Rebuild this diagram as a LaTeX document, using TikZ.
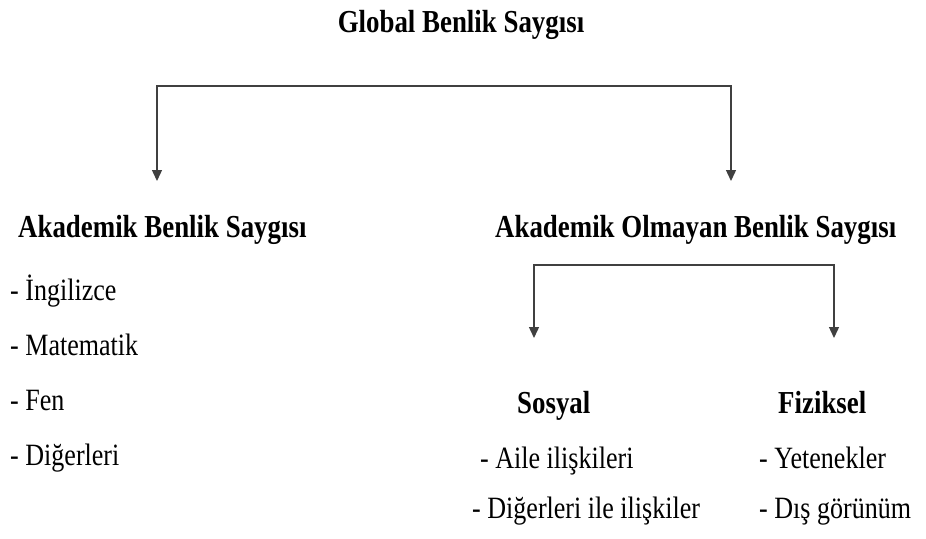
\documentclass[tikz,border=0pt]{standalone}
\usepackage{fontspec}
\setmainfont{Liberation Serif}[FakeStretch=0.84]
\usetikzlibrary{arrows.meta}
\begin{document}
\begin{tikzpicture}[x=1pt,y=-1pt,
  hd/.style={font=\fontsize{32}{36}\selectfont\bfseries, inner sep=0pt, anchor=base west},
  itm/.style={font=\fontsize{31}{36}\selectfont, inner sep=0pt, anchor=base west},
  conn/.style={draw=black!75, line width=1.4pt,
    {Triangle[width=10pt,length=11pt]}-{Triangle[width=10pt,length=11pt]}}]
\useasboundingbox (0,0) rectangle (926,538);
% title
\node[hd, anchor=base] (g) at (461,32) {Global Benlik Saygısı};
\coordinate (gl) at (458,86);
\coordinate (t1) at (157,181);
\coordinate (t2) at (731,181);
\draw[conn] (t1) -- (t1 |- gl) -- (t2 |- gl) -- (t2);
% headings
\node[hd] (ak) at (18,237) {Akademik Benlik Saygısı};
\node[hd] (nak) at (495,237) {Akademik Olmayan Benlik Saygısı};
% academic items
\node[itm] (i1) at (10,300) {- İngilizce};
\node[itm] (i2) at (10,355) {- Matematik};
\node[itm] (i3) at (10,410) {- Fen};
\node[itm] (i4) at (10,465) {- Diğerleri};
% non-academic bracket
\coordinate (nl) at (684,265);
\coordinate (s1) at (534,338);
\coordinate (s2) at (834,338);
\draw[conn] (s1) -- (s1 |- nl) -- (s2 |- nl) -- (s2);
\node[hd] (sos) at (517,413) {Sosyal};
\node[hd] (fiz) at (778,413) {Fiziksel};
\node[itm] (a1) at (480,468) {- Aile ilişkileri};
\node[itm] (a2) at (472,518) {- Diğerleri ile ilişkiler};
\node[itm] (f1) at (759,468) {- Yetenekler};
\node[itm] (f2) at (759,518) {- Dış görünüm};
\end{tikzpicture}
\end{document}
